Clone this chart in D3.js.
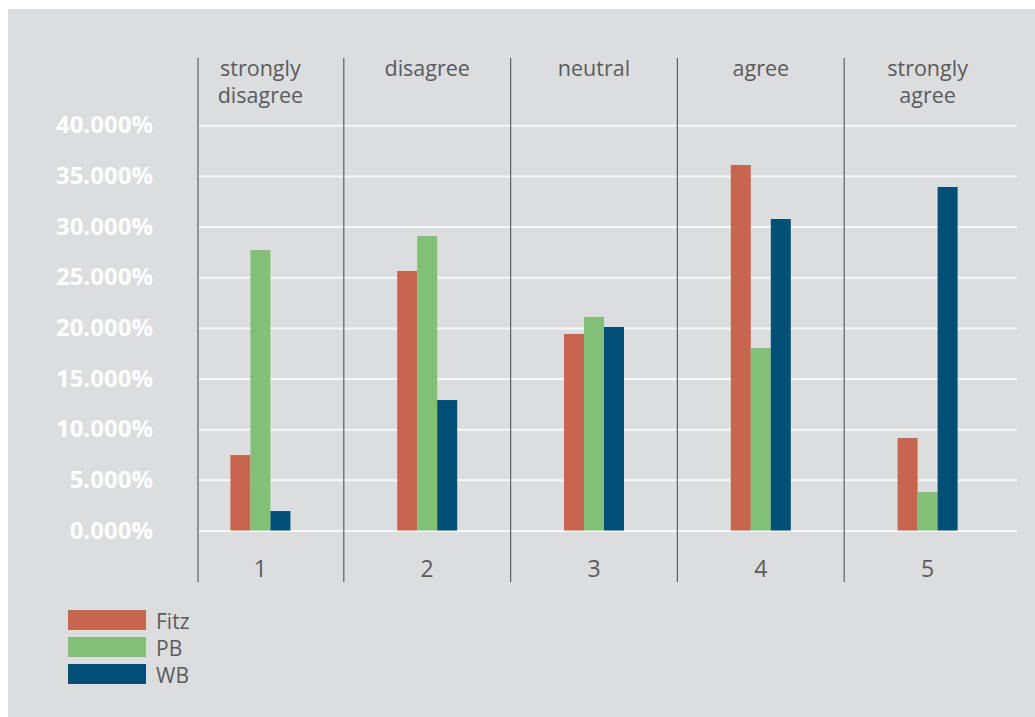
<!DOCTYPE html>
<html>
<head>
<meta charset="utf-8">
<script src="https://cdn.jsdelivr.net/npm/d3@7"></script>
<style>
  html, body { margin: 0; padding: 0; background: #ffffff; }
  svg { display: block; }
</style>
</head>
<body>
<svg id="chart" width="1035" height="717"></svg>
<script>
// ---- data ----
const categories = ["1", "2", "3", "4", "5"];
const headers = [["strongly", "disagree"], ["disagree"], ["neutral"], ["agree"], ["strongly", "agree"]];
const seriesNames = ["Fitz", "PB", "WB"];
const fitz = [0.0745, 0.2562, 0.1940, 0.3608, 0.0913];
const pb   = [0.2769, 0.2907, 0.2108, 0.1802, 0.0380];
const wb   = [0.0192, 0.1288, 0.2009, 0.3075, 0.3391];
const yTicks = [0, 0.05, 0.10, 0.15, 0.20, 0.25, 0.30, 0.35, 0.40];
const colors = ["#c8654f", "#82c077", "#004f74"];

const seriesValues = [fitz, pb, wb];

// ---- layout ----
const svg = d3.select("#chart");
const W = 1035, H = 717;
const plotLeft = 198, plotRight = 1017;
const textColor = "#5a5b5d";
const font = "'Open Sans', 'Noto Sans', sans-serif";

svg.append("rect").attr("x", 8).attr("y", 9).attr("width", W - 8).attr("height", H - 9)
  .attr("fill", "#dcdddf");

const x = d3.scaleBand().domain(categories).range([177, 1011]);
const xSub = d3.scaleBand().domain(seriesNames).range([0, 60]);
const y = d3.scaleLinear().domain([0, 0.40]).range([530.5, 125.3]);

// gridlines + tick labels
const yAxis = d3.axisLeft(y).tickValues(yTicks).tickFormat(d3.format(".3%"))
  .tickSize(-(plotRight - plotLeft)).tickPadding(45);
const gy = svg.append("g").attr("transform", `translate(${plotLeft},0)`).call(yAxis);
gy.select(".domain").remove();
gy.selectAll(".tick line").attr("stroke", "#f7f7f7").attr("stroke-width", 2);
gy.selectAll(".tick text").attr("fill", "#ffffff").attr("font-family", font)
  .attr("font-weight", "bold").attr("font-size", 24);

// vertical separators
const sepX = [plotLeft].concat(categories.slice(1).map(c => x(c)));
svg.selectAll("line.sep").data(sepX).join("line").attr("class", "sep")
  .attr("x1", d => d).attr("x2", d => d).attr("y1", 58).attr("y2", 582)
  .attr("stroke", "#5f6062").attr("stroke-width", 1.2);

// bars
const barData = [];
categories.forEach((c, i) => {
  seriesNames.forEach((s, j) => barData.push({ c, s, v: seriesValues[j][i], color: colors[j] }));
});
svg.append("g").selectAll("rect").data(barData).join("rect")
  .attr("x", d => x(d.c) + x.bandwidth() / 2 - 30 + xSub(d.s))
  .attr("width", xSub.bandwidth())
  .attr("y", d => y(d.v))
  .attr("height", d => y(0) - y(d.v))
  .attr("fill", d => d.color);

// header labels
const hg = svg.append("g");
categories.forEach((c, i) => {
  const t = hg.append("text").attr("text-anchor", "middle").attr("fill", textColor)
    .attr("font-family", font).attr("font-size", 21.5);
  headers[i].forEach((line, k) => {
    t.append("tspan").attr("x", x(c) + x.bandwidth() / 2).attr("y", 76 + k * 27).text(line);
  });
});

// bottom category numbers
svg.append("g").selectAll("text").data(categories).join("text")
  .attr("x", d => x(d) + x.bandwidth() / 2).attr("y", 577)
  .attr("text-anchor", "middle").attr("fill", textColor)
  .attr("font-family", font).attr("font-size", 23).text(d => d);

// legend
const lg = svg.append("g").attr("transform", "translate(68,610)");
seriesNames.forEach((s, j) => {
  lg.append("rect").attr("x", 0).attr("y", j * 27).attr("width", 78).attr("height", 20)
    .attr("fill", colors[j]);
  lg.append("text").attr("x", 88).attr("y", j * 27 + 19).attr("fill", textColor)
    .attr("font-family", font).attr("font-size", 21).text(s);
});
</script>
</body>
</html>
